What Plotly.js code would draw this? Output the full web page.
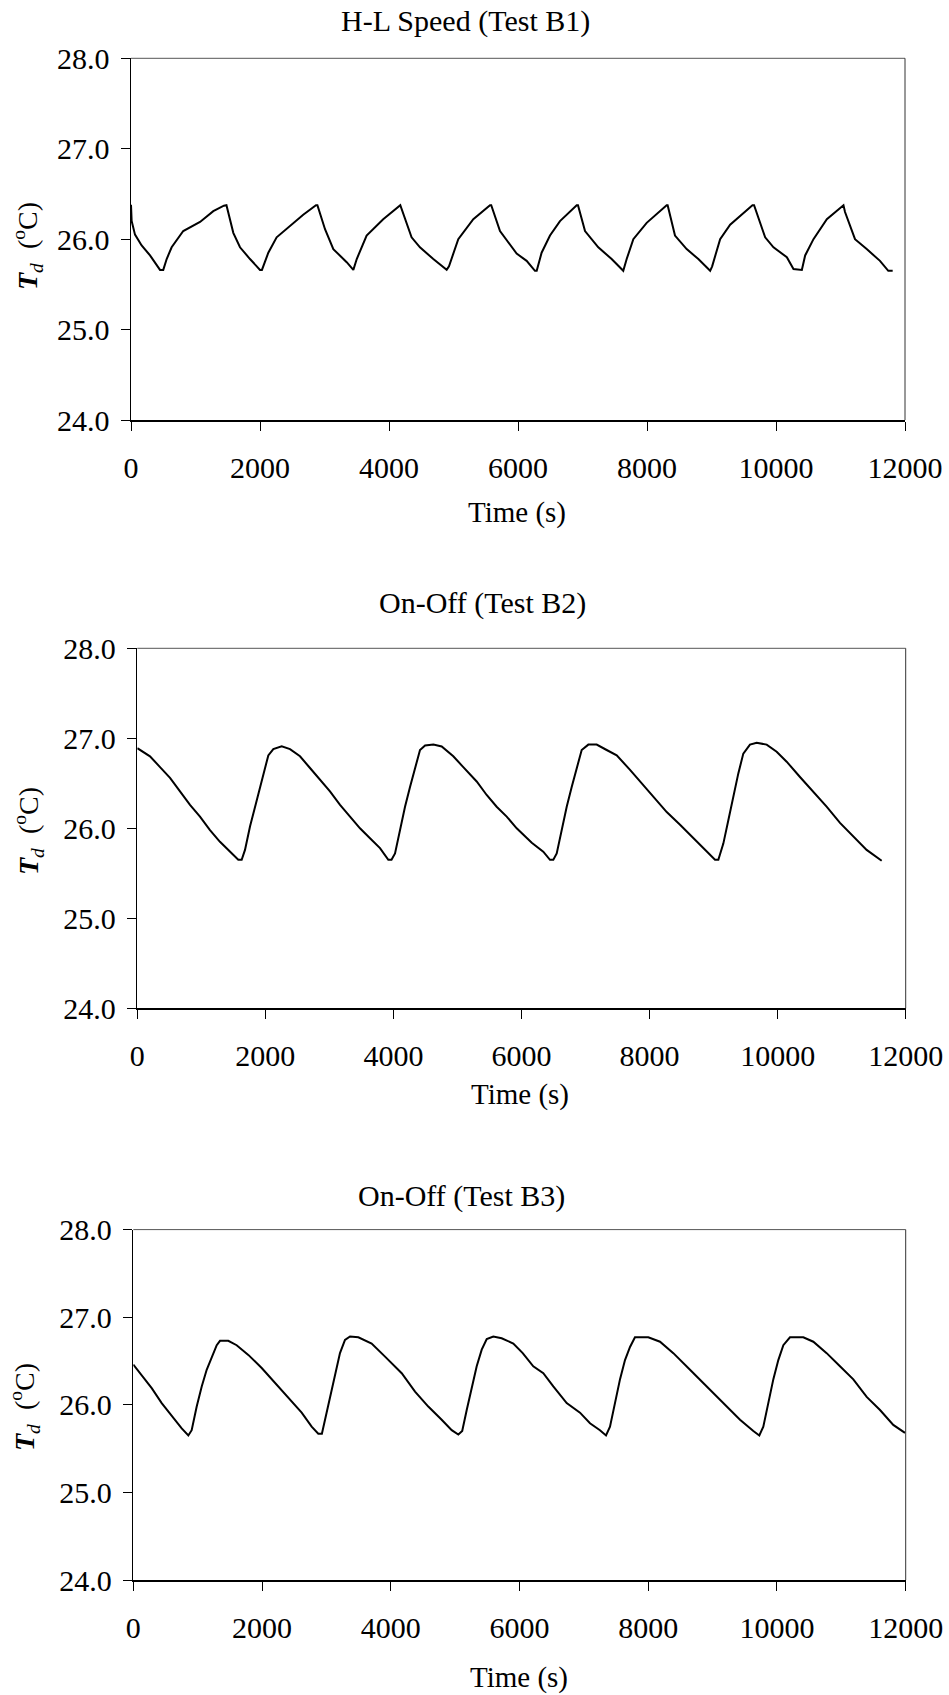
<!DOCTYPE html>
<html>
<head>
<meta charset="utf-8">
<script src="https://cdn.plot.ly/plotly-3.0.1.min.js"></script>
<style>
html,body{margin:0;padding:0;background:#fff;}
#chart{width:949px;height:1695px;}
</style>
</head>
<body>
<div id="chart"></div>
<script>
// ---------- DATA ----------
const titles = ["H-L Speed (Test B1)", "On-Off (Test B2)", "On-Off (Test B3)"];
const xAxisTitle = "Time (s)";
const yAxisTitle = "<b><i>T</i></b><sub><i>d</i></sub>  (<sup>o</sup>C)";
const xTickVals = [0, 2000, 4000, 6000, 8000, 10000, 12000];
const yTickVals = [24, 25, 26, 27, 28];

const b1Time = [0, 10, 62, 165, 295, 450, 500, 553, 630, 810, 1070, 1276, 1440, 1480, 1586, 1690, 1845, 2000, 2030, 2129,
  2258, 2490, 2670, 2868, 2890, 3008, 3137, 3344, 3447, 3500, 3653, 3910, 4158, 4175, 4350, 4480, 4687, 4894, 4930, 5074,
  5307, 5566, 5585, 5721, 5979, 6134, 6263, 6290, 6366, 6496, 6651, 6910, 6930, 7039, 7245, 7452, 7632, 7685, 7788, 7995,
  8305, 8320, 8434, 8615, 8796, 8979, 9010, 9134, 9289, 9635, 9660, 9832, 9961, 10168, 10271, 10401, 10452, 10581, 10788, 11046,
  11070, 11225, 11406, 11612, 11741, 11809];
const b1Temp = [26.38, 26.20, 26.05, 25.93, 25.82, 25.66, 25.66, 25.78, 25.91, 26.09, 26.19, 26.31, 26.37, 26.375, 26.07, 25.91, 25.78, 25.66, 25.66, 25.85,
  26.02, 26.16, 26.27, 26.375, 26.375, 26.11, 25.89, 25.745, 25.66, 25.78, 26.04, 26.22, 26.375, 26.375, 26.02, 25.91, 25.78, 25.66, 25.70, 26.00,
  26.22, 26.375, 26.375, 26.09, 25.84, 25.76, 25.65, 25.65, 25.85, 26.04, 26.20, 26.375, 26.375, 26.09, 25.91, 25.78, 25.65, 25.78, 26.00, 26.18,
  26.375, 26.375, 26.04, 25.89, 25.78, 25.65, 25.70, 26.00, 26.16, 26.375, 26.375, 26.02, 25.91, 25.80, 25.67, 25.66, 25.82, 26.00, 26.22, 26.375,
  26.30, 26.00, 25.89, 25.76, 25.65, 25.65];

const b2Time = [0, 94, 198, 355, 511, 667, 823, 979, 1135, 1291, 1448, 1577, 1630, 1682, 1760, 1838, 1916, 1994, 2046, 2124,
  2255, 2385, 2541, 2697, 2853, 3009, 3166, 3322, 3478, 3634, 3790, 3920, 3970, 4025, 4103, 4181, 4259, 4337, 4415, 4494,
  4624, 4754, 4935, 5091, 5300, 5456, 5612, 5769, 5925, 6160, 6340, 6445, 6497, 6550, 6628, 6706, 6784, 6862, 6940, 7044,
  7174, 7330, 7487, 7695, 7903, 8111, 8268, 8476, 8683, 8892, 9022, 9074, 9152, 9230, 9308, 9386, 9464, 9568, 9673, 9829,
  9985, 10141, 10349, 10557, 10765, 10974, 11182, 11390, 11625];
const b2Temp = [26.89, 26.85, 26.80, 26.68, 26.56, 26.41, 26.26, 26.13, 25.98, 25.85, 25.74, 25.65, 25.65, 25.76, 26.02, 26.24, 26.46, 26.68, 26.81, 26.88,
  26.91, 26.88, 26.80, 26.67, 26.54, 26.41, 26.26, 26.13, 26.00, 25.89, 25.78, 25.65, 25.65, 25.72, 25.98, 26.24, 26.46, 26.68, 26.87, 26.92,
  26.93, 26.91, 26.80, 26.68, 26.52, 26.37, 26.24, 26.13, 26.00, 25.84, 25.74, 25.65, 25.65, 25.72, 25.98, 26.24, 26.46, 26.68, 26.87, 26.93,
  26.93, 26.87, 26.81, 26.65, 26.48, 26.31, 26.18, 26.04, 25.89, 25.74, 25.65, 25.65, 25.83, 26.09, 26.35, 26.61, 26.83, 26.93, 26.95, 26.93,
  26.85, 26.74, 26.57, 26.41, 26.24, 26.06, 25.91, 25.76, 25.64];

const b3Time = [0, 130, 286, 441, 597, 752, 855, 907, 985, 1063, 1140, 1218, 1296, 1347, 1476, 1606, 1787, 1995, 2201, 2408,
  2616, 2771, 2874, 2930, 2978, 3056, 3134, 3211, 3289, 3367, 3496, 3703, 3911, 4170, 4377, 4583, 4791, 4947, 5050, 5110,
  5180, 5258, 5335, 5413, 5491, 5593, 5723, 5904, 6050, 6214, 6370, 6525, 6733, 6940, 7095, 7250, 7344, 7406, 7484, 7561,
  7639, 7717, 7794, 8001, 8183, 8390, 8649, 8908, 9166, 9426, 9633, 9726, 9788, 9866, 9943, 10021, 10099, 10202, 10409, 10565,
  10772, 10979, 11186, 11394, 11601, 11807, 11989];
const b3Temp = [26.46, 26.34, 26.19, 26.02, 25.87, 25.73, 25.65, 25.71, 25.98, 26.21, 26.40, 26.55, 26.68, 26.73, 26.73, 26.68, 26.57, 26.42, 26.25, 26.08,
  25.91, 25.75, 25.67, 25.67, 25.83, 26.09, 26.36, 26.59, 26.74, 26.78, 26.77, 26.70, 26.55, 26.36, 26.15, 25.98, 25.83, 25.71, 25.66, 25.70,
  25.94, 26.21, 26.44, 26.63, 26.75, 26.78, 26.76, 26.70, 26.59, 26.44, 26.36, 26.21, 26.02, 25.91, 25.79, 25.71, 25.65, 25.75, 26.02, 26.29,
  26.51, 26.66, 26.77, 26.77, 26.72, 26.59, 26.40, 26.21, 26.02, 25.83, 25.70, 25.65, 25.75, 26.02, 26.29, 26.51, 26.68, 26.77, 26.77, 26.72,
  26.59, 26.44, 26.29, 26.09, 25.94, 25.77, 25.68];

// ---------- LAYOUT ----------
const W = 949, H = 1695;
const FONT = "'Liberation Serif', 'Times New Roman', Times, serif";
const px = x => x / W;
const py = y => 1 - y / H;

// plot boxes in pixels: [left, right, top, bottom]
const boxes = [
  [131, 905, 58.3, 420],
  [137.3, 905.7, 648.3, 1008.3],
  [133.3, 905.7, 1229.6, 1580]
];
const titlePos = [[465, 21], [482, 603], [461, 1196]];
const xTitlePos = [[517, 512], [520, 1094], [519, 1677]];
const yTitlePos = [[27, 246], [28, 831], [24, 1407]];

const series = [[b1Time, b1Temp], [b2Time, b2Temp], [b3Time, b3Temp]];

const data = [];
const layout = {
  width: W, height: H,
  margin: {l: 0, r: 0, t: 0, b: 0},
  paper_bgcolor: "#ffffff",
  plot_bgcolor: "#ffffff",
  showlegend: false,
  font: {family: FONT, color: "#000", size: 28},
  annotations: [],
  shapes: []
};

series.forEach((s, i) => {
  const n = i === 0 ? "" : String(i + 1);
  data.push({
    x: s[0], y: s[1], type: "scatter", mode: "lines",
    xaxis: "x" + n, yaxis: "y" + n,
    line: {color: "#000", width: 2},
    hoverinfo: "skip"
  });
  const b = boxes[i];
  layout["xaxis" + n] = {
    domain: [px(b[0]), px(b[1])],
    anchor: "y" + n,
    range: [0, 12000],
    tickvals: xTickVals,
    ticktext: xTickVals.map(String),
    ticks: "outside", ticklen: 9, tickwidth: 1, tickcolor: "#000",
    ticklabelstandoff: 11,
    tickfont: {family: FONT, size: 30, color: "#000"},
    showline: true, linecolor: "#000", linewidth: 2,
    showgrid: false, zeroline: false, fixedrange: true
  };
  layout["yaxis" + n] = {
    domain: [py(b[3]), py(b[2])],
    anchor: "x" + n,
    range: [24, 28],
    tickvals: yTickVals,
    ticktext: yTickVals.map(v => v.toFixed(1)),
    ticks: "outside", ticklen: 9, tickwidth: 1, tickcolor: "#000",
    ticklabelstandoff: 5,
    tickfont: {family: FONT, size: 30, color: "#000"},
    showline: true, linecolor: "#000", linewidth: 1.5,
    showgrid: false, zeroline: false, fixedrange: true
  };
  // top and right border
  layout.shapes.push({type: "line", xref: "x" + n + " domain", yref: "y" + n + " domain",
    x0: 0, x1: 1, y0: 1, y1: 1, line: {color: "#555", width: 1}});
  layout.shapes.push({type: "line", xref: "x" + n + " domain", yref: "y" + n + " domain",
    x0: 1, x1: 1, y0: 0, y1: 1, line: {color: "#333", width: 1}});

  layout.annotations.push({
    text: titles[i], xref: "paper", yref: "paper",
    x: px(titlePos[i][0]), y: py(titlePos[i][1]),
    xanchor: "center", yanchor: "middle", showarrow: false,
    font: {family: FONT, size: 30, color: "#000"}
  });
  layout.annotations.push({
    text: xAxisTitle, xref: "paper", yref: "paper",
    x: px(xTitlePos[i][0]), y: py(xTitlePos[i][1]),
    xanchor: "center", yanchor: "middle", showarrow: false,
    font: {family: FONT, size: 29, color: "#000"}
  });
  layout.annotations.push({
    text: yAxisTitle, xref: "paper", yref: "paper",
    x: px(yTitlePos[i][0]), y: py(yTitlePos[i][1]),
    xanchor: "center", yanchor: "middle", showarrow: false, textangle: -90,
    font: {family: FONT, size: 28, color: "#000"}
  });
});

Plotly.newPlot("chart", data, layout, {staticPlot: true, displayModeBar: false});
</script>
</body>
</html>
